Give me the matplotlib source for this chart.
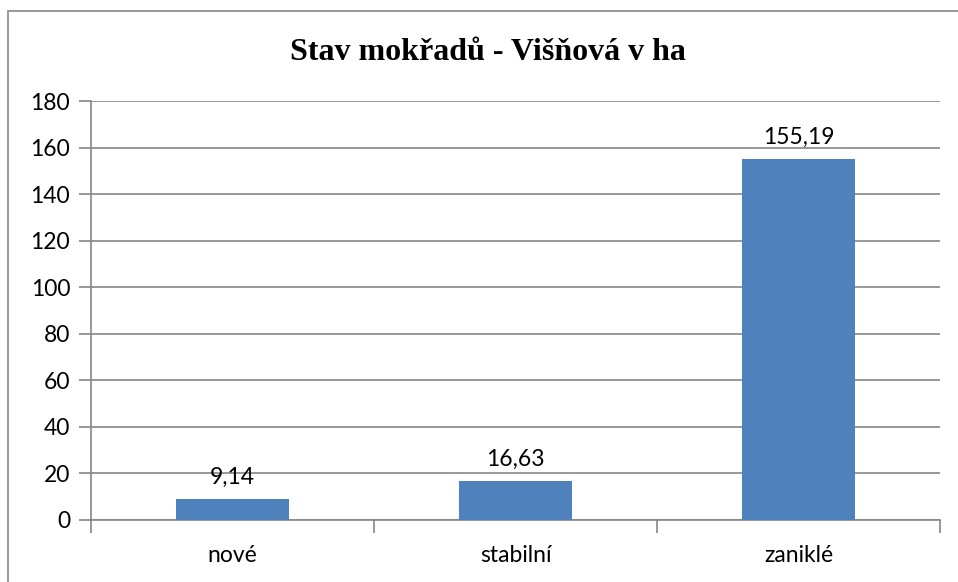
import matplotlib
matplotlib.use("Agg")
import matplotlib.pyplot as plt
from matplotlib.patches import Rectangle
from matplotlib.ticker import FixedLocator

categories = ["nové", "stabilní", "zaniklé"]
values = [9.14, 16.63, 155.19]
labels = ["9,14", "16,63", "155,19"]
yticks = [0, 20, 40, 60, 80, 100, 120, 140, 160, 180]

W, H = 958, 582
fig = plt.figure(figsize=(W/100, H/100), dpi=100)
fig.patch.set_facecolor("white")

# outer frame
fig.patches.append(Rectangle((8/W, -0.1), 1.2, (H-11)/H + 0.1, transform=fig.transFigure,
                             fill=False, edgecolor="#888888", linewidth=1.2))

ax = fig.add_axes([91/W, 1-520/H, (940-91)/W, (520-101)/H])
grid_c = "#868686"
ax.bar(range(len(categories)), values, width=0.4, color="#4F81BD", zorder=3)
ax.set_xlim(-0.5, len(categories)-0.5)
ax.set_ylim(0, 180)
ax.set_yticks(yticks)
ax.yaxis.grid(True, color=grid_c, linewidth=1.2, zorder=0)
for s in ["top", "right"]:
    ax.spines[s].set_visible(False)
ax.spines["left"].set_color(grid_c)
ax.spines["bottom"].set_color(grid_c)
ax.spines["left"].set_linewidth(1.2)
ax.spines["bottom"].set_linewidth(1.2)
ax.set_xticks(range(len(categories)))
ax.set_xticklabels(categories)
ax.xaxis.set_minor_locator(FixedLocator([-0.5, 0.5, 1.5, 2.5]))
ax.tick_params(axis="x", which="major", length=0, pad=18)
ax.tick_params(axis="x", which="minor", length=9, color=grid_c, width=1.2)
ax.tick_params(axis="y", length=9, color=grid_c, width=1.2, pad=6)
for t in ax.get_xticklabels() + ax.get_yticklabels():
    t.set_fontfamily("Lato")
    t.set_fontsize(16.5)
    t.set_color("black")

for i, (v, l) in enumerate(zip(values, labels)):
    ax.annotate(l, (i, v), xytext=(0, 8), textcoords="offset points",
                ha="center", va="bottom", fontsize=16.5, fontfamily="Lato", zorder=4)

fig.text(488/W, 1-52/H, "Stav mokřadů - Višňová v ha", ha="center", va="center",
         fontsize=23, fontweight="bold", fontfamily="Liberation Serif")

fig.savefig("out.png", dpi=100)
